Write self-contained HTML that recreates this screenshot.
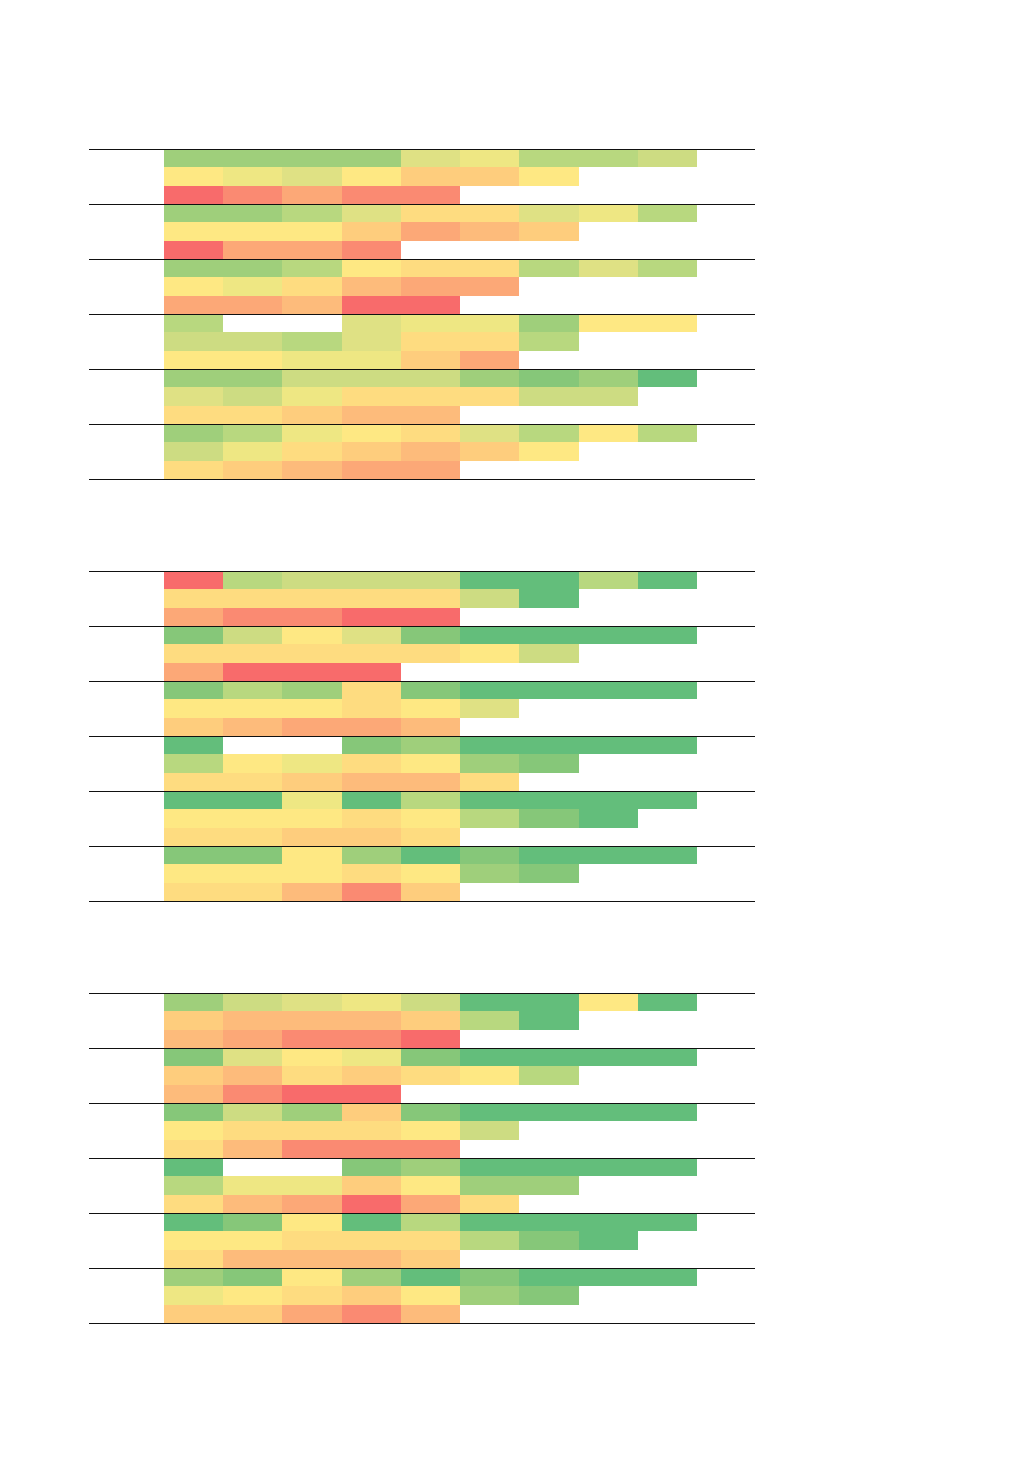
<!DOCTYPE html>
<html><head><meta charset="utf-8"><style>
body{margin:0;background:#fff;width:1033px;height:1462px;position:relative;overflow:hidden}
.c{position:absolute}
.h{position:absolute;left:89px;width:666px;height:1px;background:#111}
</style></head><body>
<script>
var P={R:'#f86b6b',r:'#fa8a72',o:'#fca877',O:'#fdbb7b',p:'#fecd7d',y:'#fedc80',Y:'#fee883',l:'#eee783',L:'#dfe184',m:'#cddc82',g:'#b8d87f',G:'#9fcf7b',n:'#86c779',N:'#63be7b',_:null};
var panels=[[149,[
"GGGGLlggm","YlLYppY","Rrorr",
"GGgLyyLlg","YYYpoOp","Roor",
"GGgYyygLg","YlyOoo","ooORR",
"g__LllGYY","mmgLyyg","YYllpo",
"GGmmmGnGN","Lmlyyymm","yypOO",
"GglYyLgYg","mlypOpY","ypOoo"]],
[571,[
"RgmmmNNgN","yyyyymN","orrRR",
"nmYLnNNNN","yyyyyYm","oRRR",
"ngGynNNNN","YYYyYL","pOooO",
"N__nGNNNN","gYlyYGn","yypOOy",
"NNlNgNNNN","YYYyYgnN","yyppy",
"nnYGNnNNN","YYYyYGn","yyOrp"]],
[993,[
"GmLlmNNYN","pOOOpgN","OorrR",
"nLYlnNNNN","pOypyYg","OrRR",
"nmGpnNNNN","YyyyYm","yOrrr",
"N__nGNNNN","gllpYGG","yOoRoy",
"NnYNgNNNN","YYyyygnN","yOOOp",
"GnYGNnNNN","lYypYGn","pporO"]]];
var h='';
panels.forEach(function(pp){
 var top=pp[0];
 pp[1].forEach(function(row,ri){
  var gi=Math.floor(ri/3),k=ri%3;
  var y0=Math.round(top+gi*55+k*55/3), y1=Math.round(top+gi*55+(k+1)*55/3);
  for(var i=0;i<row.length;i++){
   var c=P[row[i]]; if(!c) continue;
   var x0=Math.round(164+i*59.22), x1=Math.round(164+(i+1)*59.22);
   h+='<div class="c" style="left:'+x0+'px;top:'+y0+'px;width:'+(x1-x0)+'px;height:'+(y1-y0)+'px;background:'+c+'"></div>';
  }
 });
 for(var g=0;g<=6;g++){h+='<div class="h" style="top:'+(top+g*55)+'px"></div>';}
});
document.body.innerHTML=h;
</script>
</body></html>
